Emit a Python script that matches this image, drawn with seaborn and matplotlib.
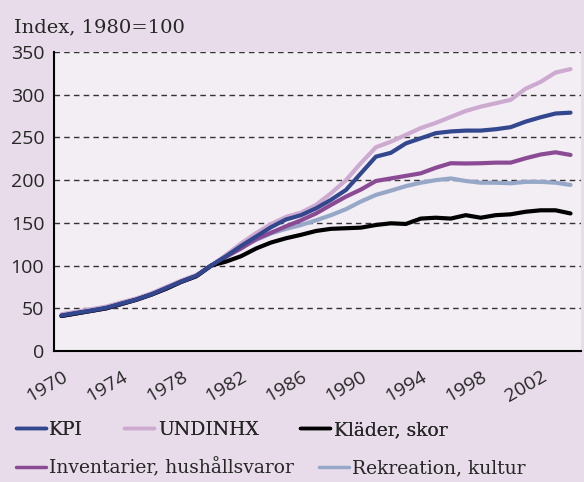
import numpy as np
import pandas as pd
import matplotlib
matplotlib.use("Agg")
import matplotlib.pyplot as plt
from matplotlib.lines import Line2D
import seaborn as sns

# Data (index, 1980=100)
YEARS = list(range(1970, 2005))
KPI = [41.6, 44.6, 47.4, 50.6, 55.5, 60.3, 66.2, 73.8, 81.3, 88, 100,
       111, 123, 134, 145, 154, 159, 167, 177, 188.5, 208, 227.5, 232, 243,
       249, 255, 257, 258, 258, 259.6, 262, 268.5, 273.6, 278, 279]
UNDINHX = [43, 46, 49, 52, 57, 61.5, 67.5, 75, 82.5, 89, 100,
           112.5, 126, 138, 148.6, 157, 162, 171, 184.6, 200, 220, 238.5, 245,
           253, 261, 267, 274, 281, 286, 290, 294, 307, 315, 326, 330]
KLADER = [41, 44, 47, 50, 55, 60, 66, 73, 81, 87.5, 100,
          104.7, 111, 120, 127, 132, 136, 140.5, 143, 143.7, 144.4, 147.5,
          149.5, 148.7, 155, 156, 155, 159, 156, 159, 160, 163, 164.7, 164.7, 161]
INVENTARIER = [41, 44, 47, 50, 55, 60, 66, 73, 81, 87.5, 100,
               110.5, 120, 131, 138.5, 146, 153, 161, 171, 180.7, 189, 199,
               202, 205, 208, 214.5, 219.8, 219.5, 219.8, 220.5, 220.5, 225.6,
               230, 232.6, 229.5]
REKREATION = [41, 44, 47, 50, 55, 60, 66, 73, 81, 87.5, 100,
              110, 121.4, 130, 137.7, 143, 147.5, 153, 159, 166, 175, 182.7,
              187.7, 193, 197, 200, 202, 199, 197, 197, 196.3, 198, 198, 197, 194.4]

SERIES = ["KPI", "UNDINHX", "Kläder, skor", "Inventarier, hushållsvaror",
          "Rekreation, kultur"]
COLORS = {"KPI": "#33478e", "UNDINHX": "#cdaacf", "Kläder, skor": "#000000",
          "Inventarier, hushållsvaror": "#8b4b94",
          "Rekreation, kultur": "#97a7c8"}
DRAW_ORDER = ["UNDINHX", "Rekreation, kultur", "Inventarier, hushållsvaror",
              "Kläder, skor", "KPI"]
LABEL_YEARS = list(range(1970, 2003, 4))

df = pd.DataFrame({"year": YEARS, "KPI": KPI, "UNDINHX": UNDINHX,
                   "Kläder, skor": KLADER,
                   "Inventarier, hushållsvaror": INVENTARIER,
                   "Rekreation, kultur": REKREATION})
long_df = df.melt(id_vars="year", var_name="serie", value_name="index")

sns.set_style("white")
SANS = ["Open Sans", "DejaVu Sans"]
SERIF = ["DejaVu Serif"]
plt.rcParams["font.family"] = SANS

fig = plt.figure(figsize=(5.84, 4.82), dpi=100)
fig.patch.set_facecolor("#e8dcea")
ax = fig.add_axes([54 / 584, 1 - 351 / 482, 527 / 584, 299 / 482])
ax.set_facecolor("#f3edf4")

sns.lineplot(data=long_df, x="year", y="index", hue="serie",
             hue_order=DRAW_ORDER, palette=COLORS, linewidth=3,
             legend=False, ax=ax, zorder=3)

ax.set_xlim(1969.5, 2004.7)
ax.set_ylim(0, 350)
ax.set_yticks(range(0, 351, 50))
for v in range(50, 351, 50):
    ax.axhline(v, color="#333333", lw=1, dashes=(4, 3), zorder=0.5)

# year boundaries as inward ticks, labels every fourth year
ax.set_xticks(np.arange(1969.5, 2005, 1), minor=True)
ax.set_xticks(LABEL_YEARS)
ax.set_xticklabels([str(y) for y in LABEL_YEARS], rotation=30, ha="right",
                   rotation_mode="anchor", fontsize=14)
ax.tick_params(axis="x", which="minor", direction="in", length=7,
               width=1, color="black")
ax.tick_params(axis="x", which="major", length=0, pad=12)
ax.tick_params(axis="y", length=0, pad=7, labelsize=14)
ax.set_xlabel("")
ax.set_ylabel("")

for s in ["top", "right"]:
    ax.spines[s].set_visible(False)
for s in ["left", "bottom"]:
    ax.spines[s].set_color("black")
    ax.spines[s].set_linewidth(1.5)

fig.text(14 / 584, 1 - 32 / 482, "Index, 1980=100", fontsize=14,
         family=SERIF, va="baseline", ha="left")

def make_handles(names):
    return [Line2D([], [], color=COLORS[n], lw=2.5) for n in names]

row1 = SERIES[:3]
row2 = SERIES[3:]
leg1 = fig.legend(make_handles(row1), row1, loc="center left",
                  bbox_to_anchor=(8 / 584, 1 - 430 / 482), ncol=3,
                  frameon=False, prop={"family": SERIF, "size": 13.5},
                  handlelength=1.6, handletextpad=0.2, columnspacing=2.2,
                  borderaxespad=0)
fig.add_artist(leg1)
fig.legend(make_handles(row2), row2, loc="center left",
           bbox_to_anchor=(8 / 584, 1 - 468 / 482), ncol=2,
           frameon=False, prop={"family": SERIF, "size": 13.5},
           handlelength=1.6, handletextpad=0.2, columnspacing=1.3,
           borderaxespad=0)

fig.savefig("out.png", dpi=100, facecolor=fig.get_facecolor())
